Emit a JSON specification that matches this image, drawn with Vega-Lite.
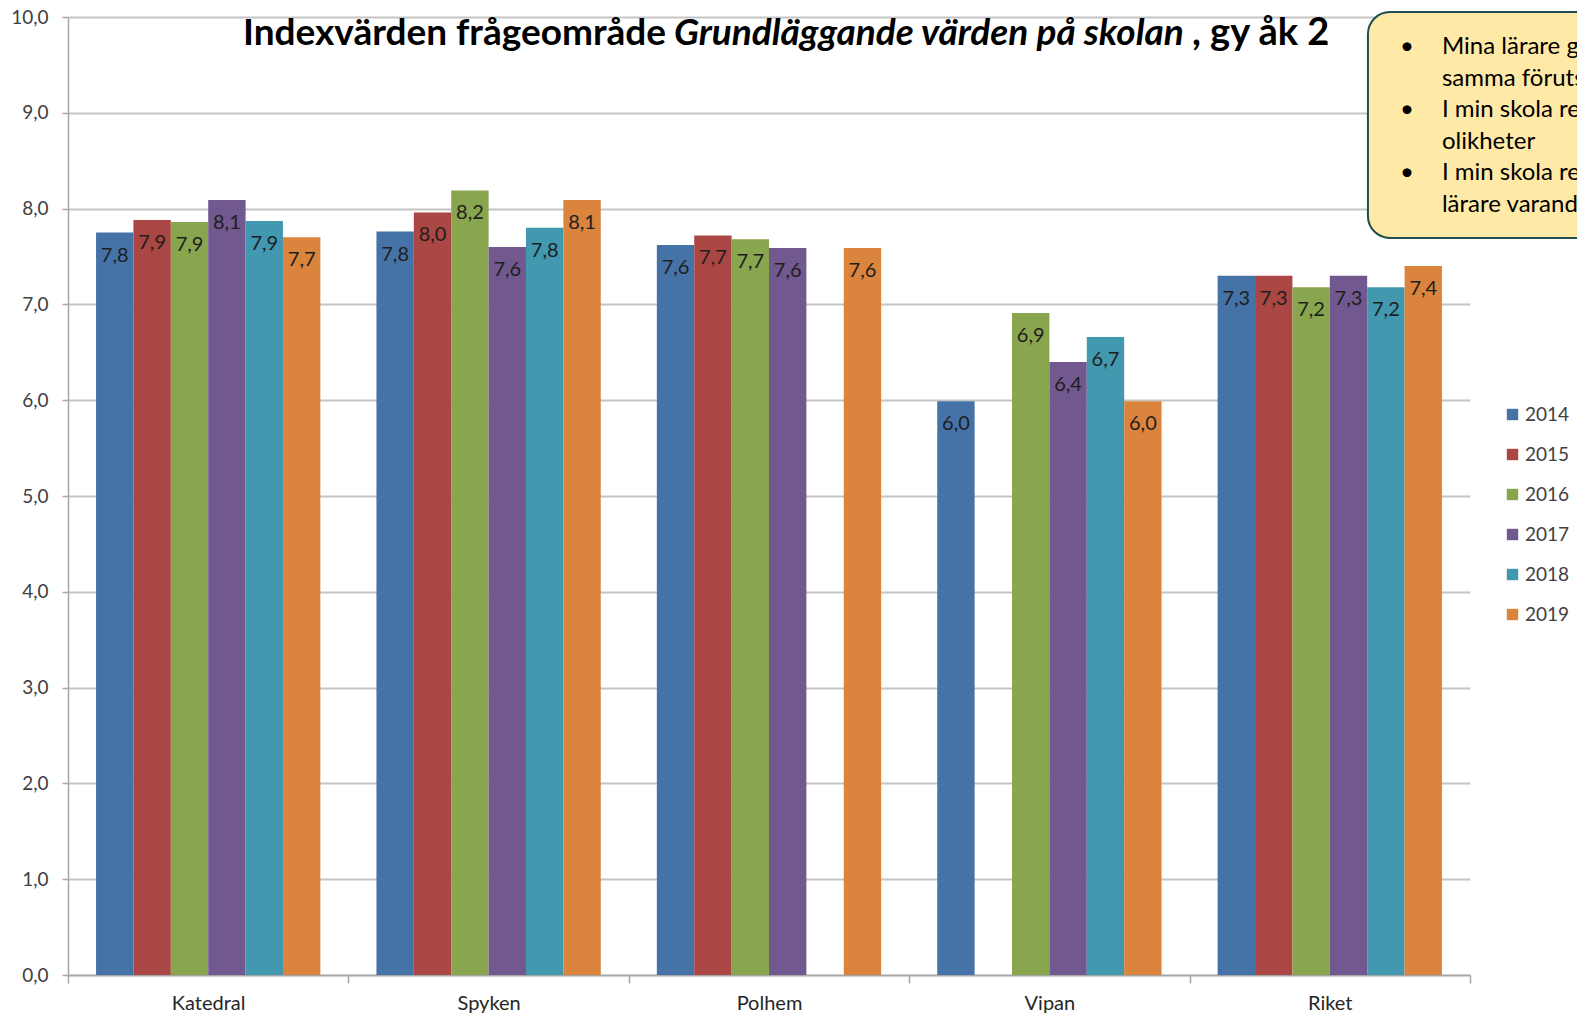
{
  "$schema": "https://vega.github.io/schema/vega-lite/v6.json",
  "autosize": {"type": "none"},
  "width": 1402,
  "height": 958,
  "padding": {"left": 68, "top": 17, "right": 107, "bottom": 45},
  "background": "white",
  "datasets": {
    "index": [
      {"skola": "Katedral", "år": "2014", "index": 7.75},
      {"skola": "Katedral", "år": "2015", "index": 7.88},
      {"skola": "Katedral", "år": "2016", "index": 7.86},
      {"skola": "Katedral", "år": "2017", "index": 8.09},
      {"skola": "Katedral", "år": "2018", "index": 7.87},
      {"skola": "Katedral", "år": "2019", "index": 7.7},
      {"skola": "Spyken", "år": "2014", "index": 7.76},
      {"skola": "Spyken", "år": "2015", "index": 7.96},
      {"skola": "Spyken", "år": "2016", "index": 8.19},
      {"skola": "Spyken", "år": "2017", "index": 7.6},
      {"skola": "Spyken", "år": "2018", "index": 7.8},
      {"skola": "Spyken", "år": "2019", "index": 8.09},
      {"skola": "Polhem", "år": "2014", "index": 7.62},
      {"skola": "Polhem", "år": "2015", "index": 7.72},
      {"skola": "Polhem", "år": "2016", "index": 7.68},
      {"skola": "Polhem", "år": "2017", "index": 7.59},
      {"skola": "Polhem", "år": "2019", "index": 7.59},
      {"skola": "Vipan", "år": "2014", "index": 5.99},
      {"skola": "Vipan", "år": "2016", "index": 6.91},
      {"skola": "Vipan", "år": "2017", "index": 6.4},
      {"skola": "Vipan", "år": "2018", "index": 6.66},
      {"skola": "Vipan", "år": "2019", "index": 5.99},
      {"skola": "Riket", "år": "2014", "index": 7.3},
      {"skola": "Riket", "år": "2015", "index": 7.3},
      {"skola": "Riket", "år": "2016", "index": 7.18},
      {"skola": "Riket", "år": "2017", "index": 7.3},
      {"skola": "Riket", "år": "2018", "index": 7.18},
      {"skola": "Riket", "år": "2019", "index": 7.4}
    ],
    "ruta": [{"ruta": "kommentar"}]
  },
  "layer": [
    {
      "data": {"name": "index"},
      "encoding": {
        "x": {
          "field": "skola",
          "type": "nominal",
          "sort": ["Katedral", "Spyken", "Polhem", "Vipan", "Riket"],
          "scale": {"paddingInner": 0, "paddingOuter": 0},
          "axis": {
            "title": null,
            "labelAngle": 0,
            "labelFont": "Lato",
            "labelFontSize": 20,
            "labelColor": "#262626",
            "labelPadding": 10,
            "tickBand": "extent",
            "tickSize": 8,
            "tickColor": "#A6A6A6",
            "tickWidth": 1.5,
            "domainColor": "#A6A6A6",
            "domainWidth": 1.5,
            "grid": false
          }
        },
        "y": {
          "field": "index",
          "type": "quantitative",
          "scale": {"domain": [0, 10], "nice": false},
          "axis": {
            "title": null,
            "values": [0, 1, 2, 3, 4, 5, 6, 7, 8, 9, 10],
            "format": ".1f",
            "labelFont": "Lato",
            "labelFontSize": 19,
            "labelColor": "#404040",
            "labelPadding": 14,
            "tickSize": 6,
            "tickColor": "#A6A6A6",
            "tickWidth": 1.5,
            "domainColor": "#A6A6A6",
            "domainWidth": 1.5,
            "gridColor": "#C4C4C4",
            "gridWidth": 1.8
          }
        },
        "xOffset": {
          "field": "år",
          "type": "nominal",
          "scale": {"domain": ["2014", "2015", "2016", "2017", "2018", "2019"], "paddingInner": 0, "paddingOuter": 0.75}
        }
      },
      "layer": [
        {
          "mark": {"type": "bar"},
          "encoding": {
            "color": {
              "field": "år",
              "type": "nominal",
              "scale": {
                "domain": ["2014", "2015", "2016", "2017", "2018", "2019"],
                "range": ["#4572A7", "#AA4643", "#89A54E", "#71588F", "#4198AF", "#DB843D"]
              },
              "legend": {
                "title": null,
                "orient": "none",
                "legendX": 1435,
                "legendY": 388,
                "symbolType": "square",
                "symbolSize": 130,
                "symbolStrokeWidth": 0,
                "labelFont": "Lato",
                "labelFontSize": 19,
                "labelColor": "#404040",
                "rowPadding": 20,
                "labelOffset": 3
              }
            }
          }
        },
        {
          "mark": {"type": "text", "baseline": "middle", "dy": 23, "font": "Lato", "fontSize": 20, "color": "#1E1E1E"},
          "encoding": {
            "text": {"field": "index", "type": "quantitative", "format": ".1f"}
          }
        }
      ]
    },
    {
      "data": {"name": "ruta"},
      "layer": [
        {
          "mark": {"type": "rect", "fill": "#FFE9A6", "stroke": "#1F4E4F", "strokeWidth": 2, "cornerRadius": 22},
          "encoding": {
            "x": {"datum": 0.9272, "type": "quantitative", "scale": {"domain": [0, 1], "nice": false, "zero": false}, "axis": null},
            "x2": {"datum": 1.2},
            "y": {"datum": 10.052, "type": "quantitative"},
            "y2": {"datum": 7.693}
          }
        },
        {
          "mark": {"type": "text", "align": "left", "baseline": "middle", "font": "Lato", "fontSize": 24, "color": "#000000"},
          "encoding": {
            "x": {"datum": 0.95, "type": "quantitative"},
            "y": {"datum": 9.687, "type": "quantitative"},
            "text": {"value": "•"}
          }
        },
        {
          "mark": {"type": "text", "align": "left", "baseline": "middle", "font": "Lato", "fontSize": 24, "color": "#000000"},
          "encoding": {
            "x": {"datum": 0.95, "type": "quantitative"},
            "y": {"datum": 9.029, "type": "quantitative"},
            "text": {"value": "•"}
          }
        },
        {
          "mark": {"type": "text", "align": "left", "baseline": "middle", "font": "Lato", "fontSize": 24, "color": "#000000"},
          "encoding": {
            "x": {"datum": 0.95, "type": "quantitative"},
            "y": {"datum": 8.372, "type": "quantitative"},
            "text": {"value": "•"}
          }
        },
        {
          "mark": {"type": "text", "align": "left", "baseline": "middle", "font": "Lato", "fontSize": 24, "lineHeight": 31.6, "color": "#000000"},
          "encoding": {
            "x": {"datum": 0.98, "type": "quantitative"},
            "y": {"datum": 9.687, "type": "quantitative"},
            "text": {"value": ["Mina lärare ger alla elever", "samma förutsättningar", "I min skola respekterar vi varandras", "olikheter", "I min skola respekterar elever och", "lärare varandra"]}
          }
        },
        {
          "mark": {"type": "text", "align": "left", "baseline": "alphabetic", "font": "Lato", "fontSize": 37, "fontWeight": "bold", "color": "#000000"},
          "encoding": {
            "x": {"datum": 0.1248, "type": "quantitative"},
            "y": {"datum": 9.708, "type": "quantitative"},
            "text": {"value": "Indexvärden frågeområde"}
          }
        },
        {
          "mark": {"type": "text", "align": "left", "baseline": "alphabetic", "font": "Lato", "fontSize": 37, "fontWeight": "bold", "fontStyle": "italic", "color": "#000000"},
          "encoding": {
            "x": {"datum": 0.4322, "type": "quantitative"},
            "y": {"datum": 9.708, "type": "quantitative"},
            "text": {"value": "Grundläggande värden på skolan"}
          }
        },
        {
          "mark": {"type": "text", "align": "left", "baseline": "alphabetic", "font": "Lato", "fontSize": 38, "fontWeight": "bold", "color": "#000000"},
          "encoding": {
            "x": {"datum": 0.8017, "type": "quantitative"},
            "y": {"datum": 9.708, "type": "quantitative"},
            "text": {"value": ", gy åk 2"}
          }
        }
      ]
    }
  ],
  "resolve": {"scale": {"x": "independent"}},
  "config": {
    "locale": {"number": {"decimal": ",", "thousands": " ", "grouping": [3], "currency": ["", " kr"]}},
    "view": {"stroke": null},
    "font": "Lato"
  }
}
